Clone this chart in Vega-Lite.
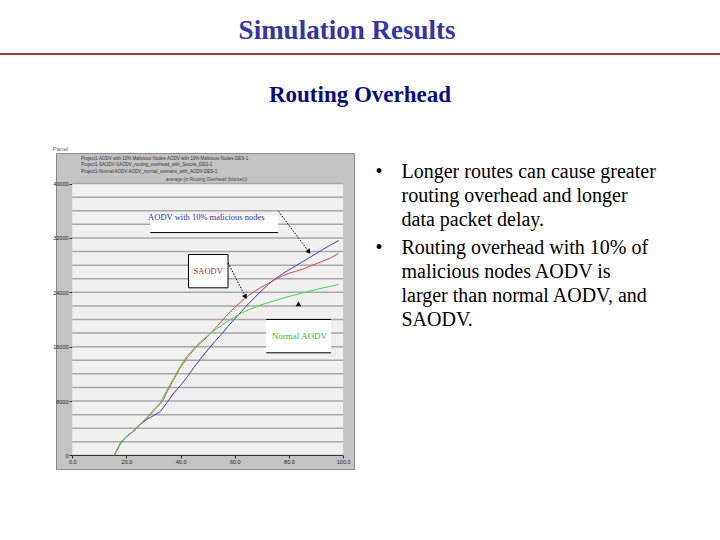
{
  "$schema": "https://vega.github.io/schema/vega-lite/v6.json",
  "background": "white",
  "padding": {"top": 17, "left": 0, "right": 0, "bottom": 0},
  "title": {"text": "Simulation Results", "font": "Liberation Serif", "fontSize": 27, "fontWeight": "bold", "color": "#3434a8", "anchor": "middle", "dx": -13, "offset": 8},
  "config": {"view": {"stroke": null}, "font": "Liberation Sans", "axis": {"labelFont": "Liberation Sans", "labelOverlap": false, "labelFlush": false}},
  "spacing": 38,
  "resolve": {"scale": {"color": "independent"}, "legend": {"color": "independent"}},
  "datasets": {
    "runs": [
      {"run": "AODV10", "time": 15.5, "overhead": 0}, {"run": "AODV10", "time": 18, "overhead": 1900}, {"run": "AODV10", "time": 20, "overhead": 2750}, {"run": "AODV10", "time": 22.5, "overhead": 3550}, {"run": "AODV10", "time": 25, "overhead": 4500}, {"run": "AODV10", "time": 27.5, "overhead": 5300}, {"run": "AODV10", "time": 30, "overhead": 5850}, {"run": "AODV10", "time": 32.5, "overhead": 6450}, {"run": "AODV10", "time": 35, "overhead": 7800}, {"run": "AODV10", "time": 37.5, "overhead": 9200}, {"run": "AODV10", "time": 40, "overhead": 10300}, {"run": "AODV10", "time": 42.5, "overhead": 11600}, {"run": "AODV10", "time": 45, "overhead": 13000}, {"run": "AODV10", "time": 47.5, "overhead": 14300}, {"run": "AODV10", "time": 50, "overhead": 15500}, {"run": "AODV10", "time": 52.5, "overhead": 16700}, {"run": "AODV10", "time": 55, "overhead": 17800}, {"run": "AODV10", "time": 57.5, "overhead": 19000}, {"run": "AODV10", "time": 60, "overhead": 20100}, {"run": "AODV10", "time": 62.5, "overhead": 21200}, {"run": "AODV10", "time": 65, "overhead": 22300}, {"run": "AODV10", "time": 67.5, "overhead": 23300}, {"run": "AODV10", "time": 70, "overhead": 24300}, {"run": "AODV10", "time": 72.5, "overhead": 25200}, {"run": "AODV10", "time": 75, "overhead": 26000}, {"run": "AODV10", "time": 77.5, "overhead": 26700}, {"run": "AODV10", "time": 80, "overhead": 27300}, {"run": "AODV10", "time": 82.5, "overhead": 27900}, {"run": "AODV10", "time": 85, "overhead": 28500}, {"run": "AODV10", "time": 87.5, "overhead": 29100}, {"run": "AODV10", "time": 90, "overhead": 29700}, {"run": "AODV10", "time": 92.5, "overhead": 30300}, {"run": "AODV10", "time": 95, "overhead": 30900}, {"run": "AODV10", "time": 98.3, "overhead": 31600},
      {"run": "SAODV", "time": 15.5, "overhead": 0}, {"run": "SAODV", "time": 18, "overhead": 2000}, {"run": "SAODV", "time": 20, "overhead": 2750}, {"run": "SAODV", "time": 22.5, "overhead": 3550}, {"run": "SAODV", "time": 25, "overhead": 4500}, {"run": "SAODV", "time": 27.5, "overhead": 5450}, {"run": "SAODV", "time": 30, "overhead": 6550}, {"run": "SAODV", "time": 32.5, "overhead": 7600}, {"run": "SAODV", "time": 33.5, "overhead": 8150}, {"run": "SAODV", "time": 35, "overhead": 9400}, {"run": "SAODV", "time": 37.5, "overhead": 11200}, {"run": "SAODV", "time": 40, "overhead": 13000}, {"run": "SAODV", "time": 42.5, "overhead": 14400}, {"run": "SAODV", "time": 45, "overhead": 15600}, {"run": "SAODV", "time": 47.5, "overhead": 16600}, {"run": "SAODV", "time": 50, "overhead": 17500}, {"run": "SAODV", "time": 52.5, "overhead": 18600}, {"run": "SAODV", "time": 55, "overhead": 19700}, {"run": "SAODV", "time": 57.5, "overhead": 20800}, {"run": "SAODV", "time": 60, "overhead": 21800}, {"run": "SAODV", "time": 62.5, "overhead": 22700}, {"run": "SAODV", "time": 65, "overhead": 23500}, {"run": "SAODV", "time": 67.5, "overhead": 24200}, {"run": "SAODV", "time": 70, "overhead": 24800}, {"run": "SAODV", "time": 72.5, "overhead": 25350}, {"run": "SAODV", "time": 75, "overhead": 25900}, {"run": "SAODV", "time": 77.5, "overhead": 26400}, {"run": "SAODV", "time": 80, "overhead": 26800}, {"run": "SAODV", "time": 82.5, "overhead": 27100}, {"run": "SAODV", "time": 85, "overhead": 27400}, {"run": "SAODV", "time": 87.5, "overhead": 27800}, {"run": "SAODV", "time": 90, "overhead": 28200}, {"run": "SAODV", "time": 92.5, "overhead": 28600}, {"run": "SAODV", "time": 95, "overhead": 29000}, {"run": "SAODV", "time": 98.3, "overhead": 29700},
      {"run": "Normal", "time": 15.5, "overhead": 0}, {"run": "Normal", "time": 18, "overhead": 2000}, {"run": "Normal", "time": 20, "overhead": 2800}, {"run": "Normal", "time": 22.5, "overhead": 3600}, {"run": "Normal", "time": 25, "overhead": 4550}, {"run": "Normal", "time": 27.5, "overhead": 5550}, {"run": "Normal", "time": 30, "overhead": 6650}, {"run": "Normal", "time": 32.5, "overhead": 7750}, {"run": "Normal", "time": 35, "overhead": 9700}, {"run": "Normal", "time": 37.5, "overhead": 11400}, {"run": "Normal", "time": 40, "overhead": 13200}, {"run": "Normal", "time": 42.5, "overhead": 14700}, {"run": "Normal", "time": 45, "overhead": 15800}, {"run": "Normal", "time": 47.5, "overhead": 16800}, {"run": "Normal", "time": 50, "overhead": 17600}, {"run": "Normal", "time": 52.5, "overhead": 18400}, {"run": "Normal", "time": 55, "overhead": 19100}, {"run": "Normal", "time": 57.5, "overhead": 19800}, {"run": "Normal", "time": 60, "overhead": 20400}, {"run": "Normal", "time": 62.5, "overhead": 20950}, {"run": "Normal", "time": 65, "overhead": 21400}, {"run": "Normal", "time": 67.5, "overhead": 21800}, {"run": "Normal", "time": 70, "overhead": 22200}, {"run": "Normal", "time": 72.5, "overhead": 22500}, {"run": "Normal", "time": 75, "overhead": 22800}, {"run": "Normal", "time": 77.5, "overhead": 23100}, {"run": "Normal", "time": 80, "overhead": 23400}, {"run": "Normal", "time": 82.5, "overhead": 23650}, {"run": "Normal", "time": 85, "overhead": 23900}, {"run": "Normal", "time": 87.5, "overhead": 24150}, {"run": "Normal", "time": 90, "overhead": 24400}, {"run": "Normal", "time": 92.5, "overhead": 24650}, {"run": "Normal", "time": 95, "overhead": 24850}, {"run": "Normal", "time": 98.3, "overhead": 25150}
    ],
    "grid": [
      {"overhead": 2000}, {"overhead": 4000}, {"overhead": 6000}, {"overhead": 8000}, {"overhead": 10000}, {"overhead": 12000}, {"overhead": 14000}, {"overhead": 16000}, {"overhead": 18000}, {"overhead": 20000}, {"overhead": 22000}, {"overhead": 24000}, {"overhead": 26000}, {"overhead": 28000}, {"overhead": 30000}, {"overhead": 32000}, {"overhead": 34000}, {"overhead": 36000}, {"overhead": 38000}, {"overhead": 40000}
    ],
    "boxes": [
      {"box": "aodv", "time": 28.8, "time2": 76, "overhead": 32790, "overhead2": 35300},
      {"box": "saodv", "time": 42.9, "time2": 57.5, "overhead": 24660, "overhead2": 29560},
      {"box": "normal", "time": 71.6, "time2": 95.5, "overhead": 15100, "overhead2": 20000}
    ],
    "edges": [
      {"box": "aodv", "time": 28.8, "time2": 76, "overhead": 32790},
      {"box": "normal", "time": 71.6, "time2": 95.5, "overhead": 20000},
      {"box": "normal", "time": 71.6, "time2": 95.5, "overhead": 15100}
    ],
    "arrows": [
      {"arrow": "aodv", "time": 76.1, "overhead": 35930, "time2": 87.2, "overhead2": 30040},
      {"arrow": "saodv", "time": 57.5, "overhead": 28340, "time2": 63.8, "overhead2": 23430},
      {"arrow": "normal", "time": 83.5, "overhead": 22200, "time2": 83.5, "overhead2": 22200}
    ],
    "notes": [
      {"note": "aodv", "label": "AODV with 10% malicious nodes", "time": 49.5, "overhead": 35150},
      {"note": "saodv", "label": "SAODV", "time": 50.2, "overhead": 27100},
      {"note": "normal", "label": "Normal AODV", "time": 83.8, "overhead": 17500},
      {"note": "caption", "label": "average (in Routing Overhead (bits/sec))", "time": 49.6, "overhead": 40600}
    ]
  },
  "vconcat": [
    {
      "width": 720,
      "height": 2,
      "data": {"values": [{}]},
      "mark": {"type": "rect", "color": "#a33a3a"},
      "encoding": {},
      "view": {"fill": "#a33a3a", "stroke": null},
      "title": {"text": "Routing Overhead", "orient": "bottom", "anchor": "middle", "font": "Liberation Serif", "fontSize": 23, "fontWeight": "bold", "color": "#0a0a80", "offset": 29}
    },
    {
      "spacing": 10,
      "resolve": {"scale": {"color": "independent"}, "legend": {"color": "independent"}},
      "hconcat": [
        {
          "width": 42,
          "height": 10,
          "data": {"values": [{}]},
          "mark": {"type": "rect", "opacity": 0},
          "encoding": {}
        },
        {
          "width": 298,
          "height": 316,
          "view": {"fill": "#c3c3c3", "stroke": "#8a8a8a"},
          "title": {"text": "Panel", "anchor": "start", "fontSize": 6, "color": "#666666", "fontWeight": "normal", "offset": 1, "font": "Liberation Sans"},
          "layer": [
            {
              "data": {"values": [{}]},
              "mark": {"type": "rect", "color": "#f0f0f0"},
              "encoding": {
                "x": {"datum": 0, "type": "quantitative", "scale": {"domain": [-6, 104], "nice": false, "zero": false}},
                "x2": {"datum": 100},
                "y": {"datum": 0, "type": "quantitative", "scale": {"domain": [-2000, 44500], "nice": false, "zero": false}},
                "y2": {"datum": 40000}
              }
            },
            {
              "data": {"name": "grid"},
              "mark": {"type": "rule", "color": "#a8a8a8", "strokeWidth": 1.5},
              "encoding": {"x": {"datum": 0, "type": "quantitative"}, "x2": {"datum": 100}, "y": {"field": "overhead", "type": "quantitative"}}
            },
            {
              "data": {"values": [{}]},
              "mark": {"type": "rule", "color": "#222222", "strokeWidth": 1},
              "encoding": {"x": {"datum": 0, "type": "quantitative"}, "x2": {"datum": 100}, "y": {"datum": 0, "type": "quantitative"}}
            },
            {
              "data": {"name": "boxes"},
              "mark": {"type": "rect", "color": "#ffffff"},
              "encoding": {"x": {"field": "time", "type": "quantitative"}, "x2": {"field": "time2"}, "y": {"field": "overhead", "type": "quantitative"}, "y2": {"field": "overhead2"}}
            },
            {
              "data": {"name": "boxes"},
              "transform": [{"filter": "datum.box === 'saodv'"}],
              "mark": {"type": "rect", "fill": "#ffffff", "stroke": "#000000", "strokeWidth": 1},
              "encoding": {"x": {"field": "time", "type": "quantitative"}, "x2": {"field": "time2"}, "y": {"field": "overhead", "type": "quantitative"}, "y2": {"field": "overhead2"}}
            },
            {
              "data": {"name": "edges"},
              "mark": {"type": "rule", "color": "#000000", "strokeWidth": 1},
              "encoding": {"x": {"field": "time", "type": "quantitative"}, "x2": {"field": "time2"}, "y": {"field": "overhead", "type": "quantitative"}}
            },
            {
              "data": {"name": "runs"},
              "mark": {"type": "line", "strokeWidth": 1, "interpolate": "linear"},
              "encoding": {
                "x": {"field": "time", "type": "quantitative",
                      "axis": {"title": null, "values": [0, 10, 20, 30, 40, 50, 60, 70, 80, 90, 100], "format": ".1f", "offset": -14, "grid": false, "domain": false, "tickSize": 3, "tickColor": "#333333", "labelFontSize": 5.5, "labelColor": "#222222", "labelPadding": 1, "labelOverlap": false, "labelFlush": false, "labelBound": false}},
                "y": {"field": "overhead", "type": "quantitative",
                      "axis": {"title": null, "values": [0, 2000, 4000, 6000, 8000, 10000, 12000, 14000, 16000, 18000, 20000, 22000, 24000, 26000, 28000, 30000, 32000, 34000, 36000, 38000, 40000], "format": "d", "offset": -16, "grid": false, "domain": false, "tickSize": 3, "tickColor": "#333333", "labelFontSize": 5.5, "labelColor": "#222222", "labelPadding": 1, "labelOverlap": false, "labelFlush": false, "labelBound": false}},
                "color": {"field": "run", "type": "nominal",
                  "scale": {"domain": ["AODV10", "SAODV", "Normal"], "range": ["#3c3cc8", "#d84848", "#44d844"]},
                  "legend": {"orient": "none", "legendX": 18, "legendY": 3, "title": null, "symbolType": "square", "symbolSize": 18, "symbolStrokeWidth": 0, "labelFontSize": 4.5, "labelColor": "#333333", "rowPadding": 0.5, "labelOffset": 2, "labelLimit": 400,
                    "labelExpr": "datum.label == 'AODV10' ? 'Project1-AODV with 10% Malicious Nodes-AODV with 10% Malicious Nodes-DES-1' : datum.label == 'SAODV' ? 'Project1-SAODV-SAODV_routing_overhead_with_Secure_DES-1' : 'Project1-Normal AODV-AODV_normal_scenario_with_AODV-DES-1'"}},
                "order": {"field": "time", "type": "quantitative"}
              }
            },
            {
              "data": {"name": "arrows"},
              "mark": {"type": "rule", "color": "#000000", "strokeWidth": 1, "strokeDash": [1.5, 1.5]},
              "encoding": {"x": {"field": "time", "type": "quantitative"}, "x2": {"field": "time2"}, "y": {"field": "overhead", "type": "quantitative"}, "y2": {"field": "overhead2"}}
            },
            {
              "data": {"name": "arrows"},
              "transform": [{"filter": "datum.arrow === 'aodv'"}],
              "mark": {"type": "point", "shape": "triangle", "filled": true, "color": "#000000", "size": 30, "angle": 143, "opacity": 1},
              "encoding": {"x": {"field": "time2", "type": "quantitative"}, "y": {"field": "overhead2", "type": "quantitative"}}
            },
            {
              "data": {"name": "arrows"},
              "transform": [{"filter": "datum.arrow === 'saodv'"}],
              "mark": {"type": "point", "shape": "triangle", "filled": true, "color": "#000000", "size": 30, "angle": 153, "opacity": 1},
              "encoding": {"x": {"field": "time2", "type": "quantitative"}, "y": {"field": "overhead2", "type": "quantitative"}}
            },
            {
              "data": {"name": "arrows"},
              "transform": [{"filter": "datum.arrow === 'normal'"}],
              "mark": {"type": "point", "shape": "triangle", "filled": true, "color": "#000000", "size": 30, "angle": 0, "opacity": 1},
              "encoding": {"x": {"field": "time2", "type": "quantitative"}, "y": {"field": "overhead2", "type": "quantitative"}}
            },
            {
              "data": {"name": "notes"},
              "transform": [{"filter": "datum.note === 'aodv'"}],
              "mark": {"type": "text", "font": "Liberation Serif", "fontSize": 8.5, "color": "#2a2aa0"},
              "encoding": {"x": {"field": "time", "type": "quantitative"}, "y": {"field": "overhead", "type": "quantitative"}, "text": {"field": "label"}}
            },
            {
              "data": {"name": "notes"},
              "transform": [{"filter": "datum.note === 'saodv'"}],
              "mark": {"type": "text", "font": "Liberation Serif", "fontSize": 8.5, "color": "#c02828"},
              "encoding": {"x": {"field": "time", "type": "quantitative"}, "y": {"field": "overhead", "type": "quantitative"}, "text": {"field": "label"}}
            },
            {
              "data": {"name": "notes"},
              "transform": [{"filter": "datum.note === 'normal'"}],
              "mark": {"type": "text", "font": "Liberation Serif", "fontSize": 9, "color": "#30c030"},
              "encoding": {"x": {"field": "time", "type": "quantitative"}, "y": {"field": "overhead", "type": "quantitative"}, "text": {"field": "label"}}
            },
            {
              "data": {"name": "notes"},
              "transform": [{"filter": "datum.note === 'caption'"}],
              "mark": {"type": "text", "font": "Liberation Sans", "fontSize": 4.5, "color": "#444444"},
              "encoding": {"x": {"field": "time", "type": "quantitative"}, "y": {"field": "overhead", "type": "quantitative"}, "text": {"field": "label"}}
            }
          ]
        },
        {
          "width": 1,
          "height": 152,
          "data": {"values": [
            {"item": "1", "bullet": "•", "lines": ["Longer routes can cause greater", "routing overhead and longer", "data packet delay."]},
            {"item": "2", "bullet": "•", "lines": ["Routing overhead with 10% of", "malicious nodes AODV is", "larger than normal AODV, and", "SAODV."]}
          ]},
          "encoding": {
            "y": {"field": "item", "type": "ordinal", "scale": {"type": "band", "paddingInner": 0, "paddingOuter": 0}, "axis": null, "bandPosition": 0}
          },
          "layer": [
            {"mark": {"type": "text", "align": "left", "baseline": "top", "font": "Liberation Serif", "fontSize": 20, "lineHeight": 24, "color": "#000000", "dx": 10, "dy": 9}, "encoding": {"text": {"field": "bullet"}}},
            {"mark": {"type": "text", "align": "left", "baseline": "top", "font": "Liberation Serif", "fontSize": 20, "lineHeight": 24, "color": "#000000", "dx": 36, "dy": 9}, "encoding": {"text": {"field": "lines"}}}
          ]
        }
      ]
    }
  ]
}
